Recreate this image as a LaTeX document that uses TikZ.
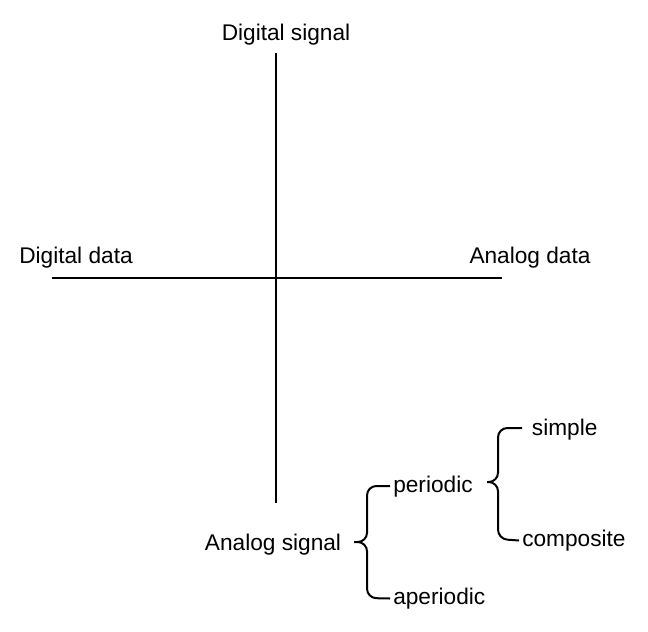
\documentclass[tikz,border=0pt]{standalone}
\usepackage{fontspec}
\setmainfont{Liberation Sans}
\begin{document}
\begin{tikzpicture}[
    x=0.75pt, y=-0.75pt,
    every node/.style={font=\fontsize{17}{20}\selectfont},
    axis/.style={line width=1.5pt},
    brace/.style={line width=1.5pt, rounded corners=7pt},
    leaf/.style={anchor=west, inner sep=2.25pt}
]
    \useasboundingbox (0,0) rectangle (648,631);

    % Axes
    \coordinate (top) at (276,53);
    \coordinate (bottom) at (276,503);
    \coordinate (left) at (52,278);
    \coordinate (right) at (502,278);
    \draw[axis] (top) -- (bottom);
    \draw[axis] (left) -- (right);

    % Axis labels
    \node (dsig) at (286,34.5) {Digital signal};
    \node (ddata) at (76,257.5) {Digital data};
    \node (adata) at (530,257.5) {Analog data};
    \node (asig) at (273,545) {Analog signal};

    % Analog signal branches
    \node[leaf] (per) at (390,487) {periodic};
    \node[leaf] (aper) at (390,598.5) {aperiodic};
    \node[leaf, xshift=5] (simp) at (522,429.5) {simple};
    \node[leaf] (comp) at (519,540.5) {composite};

    % Braces
    \coordinate (tip1) at (354,542);
    \draw[brace] (390,486) -- (367,486) -- (367,542) -- (tip1)
        (tip1) -- (367,542) -- (367,598) -- (aper.west);
    \coordinate (tip2) at (487,482);
    \draw[brace] (522,428) -- (498,428) -- (498,482) -- (tip2)
        (tip2) -- (498,482) -- (498,539) -- (comp.west);
\end{tikzpicture}
\end{document}
